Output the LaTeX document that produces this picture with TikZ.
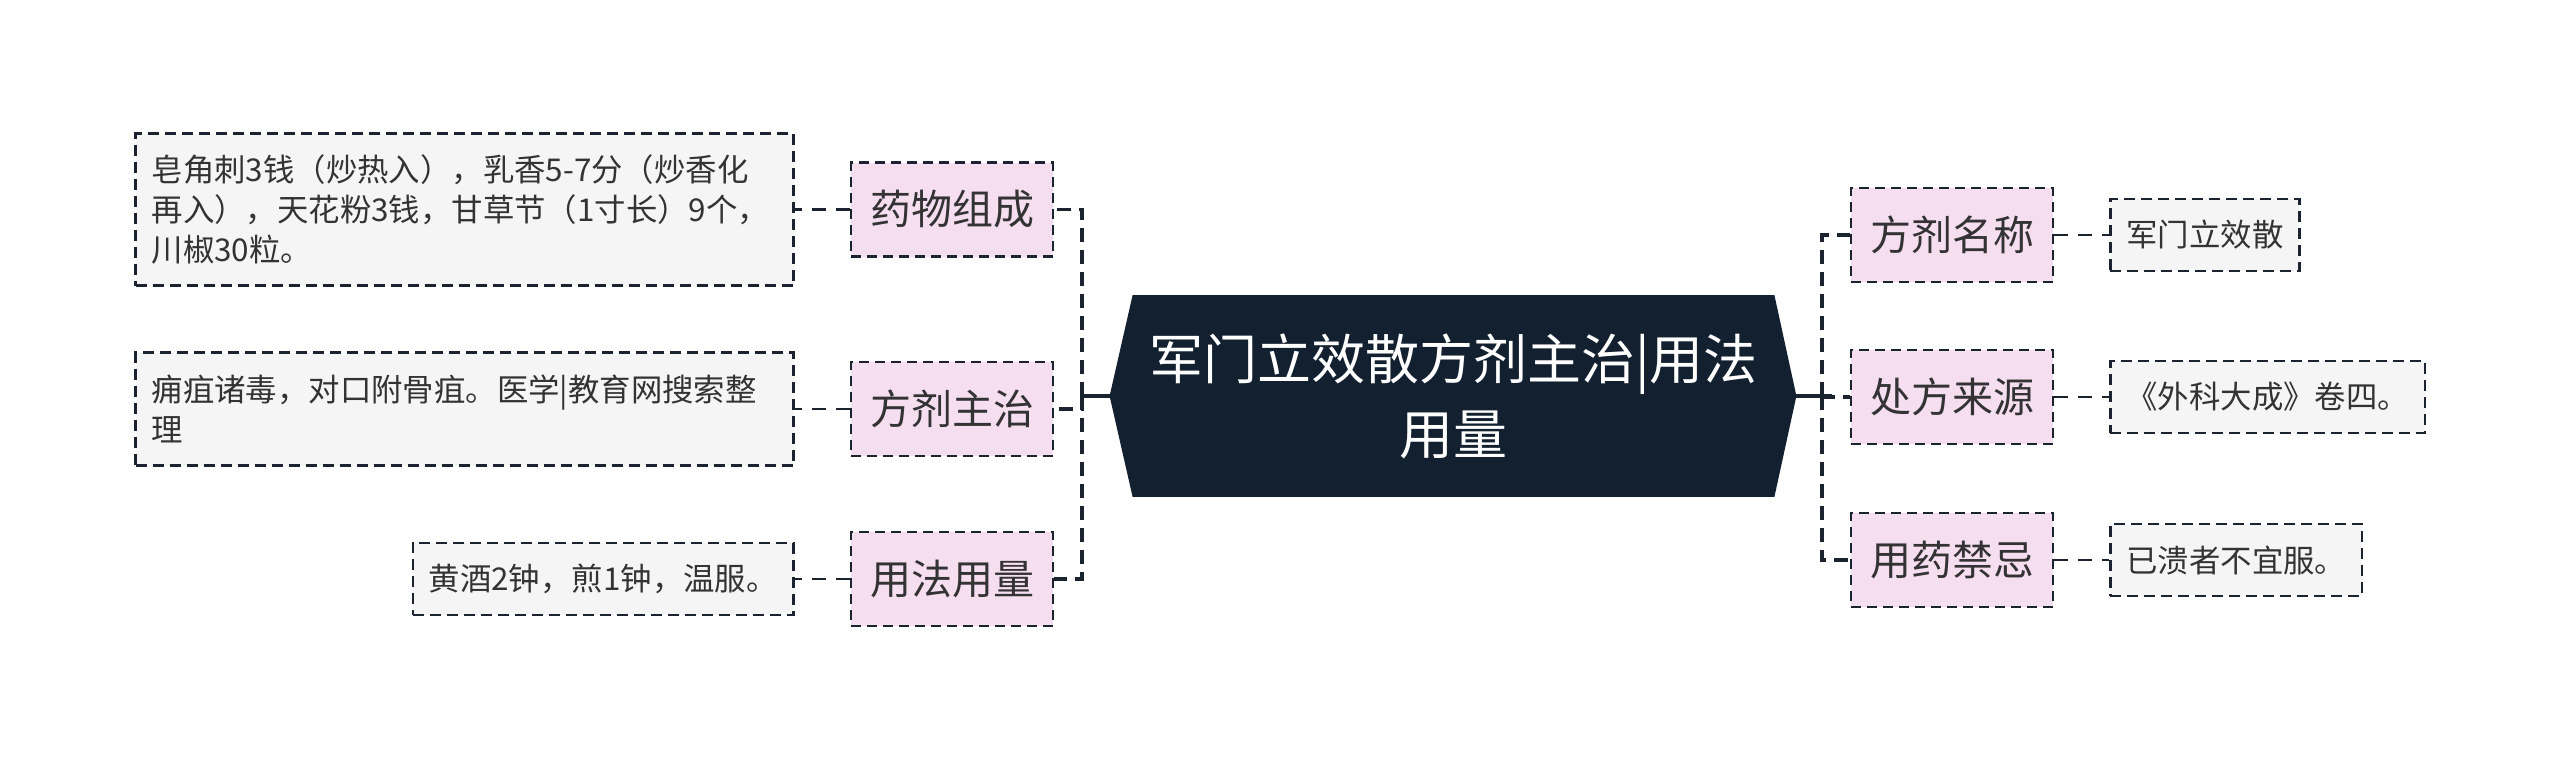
\documentclass[tikz,border=0pt]{standalone}
\usepackage{fontspec}
\setmainfont{Noto Sans CJK SC}
\usepackage{xcolor}
\definecolor{rootnavy}{RGB}{19,32,47}
\definecolor{topicpink}{RGB}{246,222,241}
\definecolor{notegray}{RGB}{245,245,245}
\definecolor{linedark}{RGB}{28,35,48}
\definecolor{textdark}{RGB}{51,51,51}
\usetikzlibrary{positioning, calc, backgrounds}

\begin{document}
\begin{tikzpicture}[
  x=0.5pt, y=-0.5pt,
  root/.style={text=white, align=center, inner sep=0pt,
               minimum width=320.5pt, minimum height=100.5pt,
               font=\fontsize{27pt}{37.5pt}\selectfont},
  topic/.style={rectangle, draw=linedark, fill=topicpink, line width=1.2pt,
                dash pattern=on 5pt off 3pt, minimum width=101pt, minimum height=47pt,
                text=textdark, font=\fontsize{20.5pt}{24pt}\selectfont},
  note/.style={rectangle, draw=linedark, fill=notegray, line width=1.2pt,
               dash pattern=on 5.5pt off 3pt, minimum height=36pt,
               inner xsep=8pt, inner ysep=6pt, align=left,
               text=textdark, font=\fontsize{15.7pt}{20pt}\selectfont},
  branch/.style={draw=linedark, line width=1.8pt, dash pattern=on 7pt off 4pt},
  leaf/.style={draw=linedark, line width=1.3pt, dash pattern=on 7pt off 5pt},
  trunk/.style={draw=linedark, line width=2pt}
]
\useasboundingbox (0,0) rectangle (2560,762);

% Root
\node[root] (root) at (1453.5,396) {军门立效散方剂主治|用法\\用量};
\begin{scope}[on background layer]
\fill[rootnavy] (root.north west) -- (root.north east) -- ($(root.east)+(22,0)$)
  -- (root.south east) -- (root.south west) -- ($(root.west)+(-23,0)$) -- cycle;
\end{scope}

% Topics
\node[topic] (comp)  at (952,209.5) {药物组成};
\node[topic] (indic) at (952,409)   {方剂主治};
\node[topic] (usage) at (952,579)   {用法用量};
\node[topic] (name)  at (1952,235)  {方剂名称};
\node[topic] (src)   at (1952,397)  {处方来源};
\node[topic] (taboo) at (1952,560)  {用药禁忌};

% Notes
\node[note, left=27.5pt of comp, text width=313pt, minimum height=76pt] (comp-n)
  {皂角刺3钱（炒热入），乳香5-7分（炒香化\\再入），天花粉3钱，甘草节（1寸长）9个，\\川椒30粒。};
\node[note, left=27.5pt of indic, text width=313pt, minimum height=56.5pt] (indic-n)
  {痈疽诸毒，对口附骨疽。医学|教育网搜索整\\理};
\node[note, left=27.5pt of usage] (usage-n) {黄酒2钟，煎1钟，温服。};
\node[note, right=27.5pt of name]  (name-n)  {军门立效散};
\node[note, right=27.5pt of src]   (src-n)   {《外科大成》卷四。};
\node[note, right=27.5pt of taboo] (taboo-n) {已溃者不宜服。};

% Connectors
\coordinate (jl) at (1082,396);
\coordinate (jr) at (1822,396);
\draw[trunk] ($(root.west)+(-23,0)$) -- (jl);
\draw[trunk] ($(root.east)+(22,0)$) -- ($(jr)+(10,0)$);
\foreach \t in {comp,indic,usage} \draw[branch] (jl) |- (\t.east);
\foreach \t in {name,src,taboo} \draw[branch] (jr) |- (\t.west);
\foreach \t in {comp,indic,usage,name,src,taboo} \draw[leaf] (\t) -- (\t-n);

\end{tikzpicture}
\end{document}
